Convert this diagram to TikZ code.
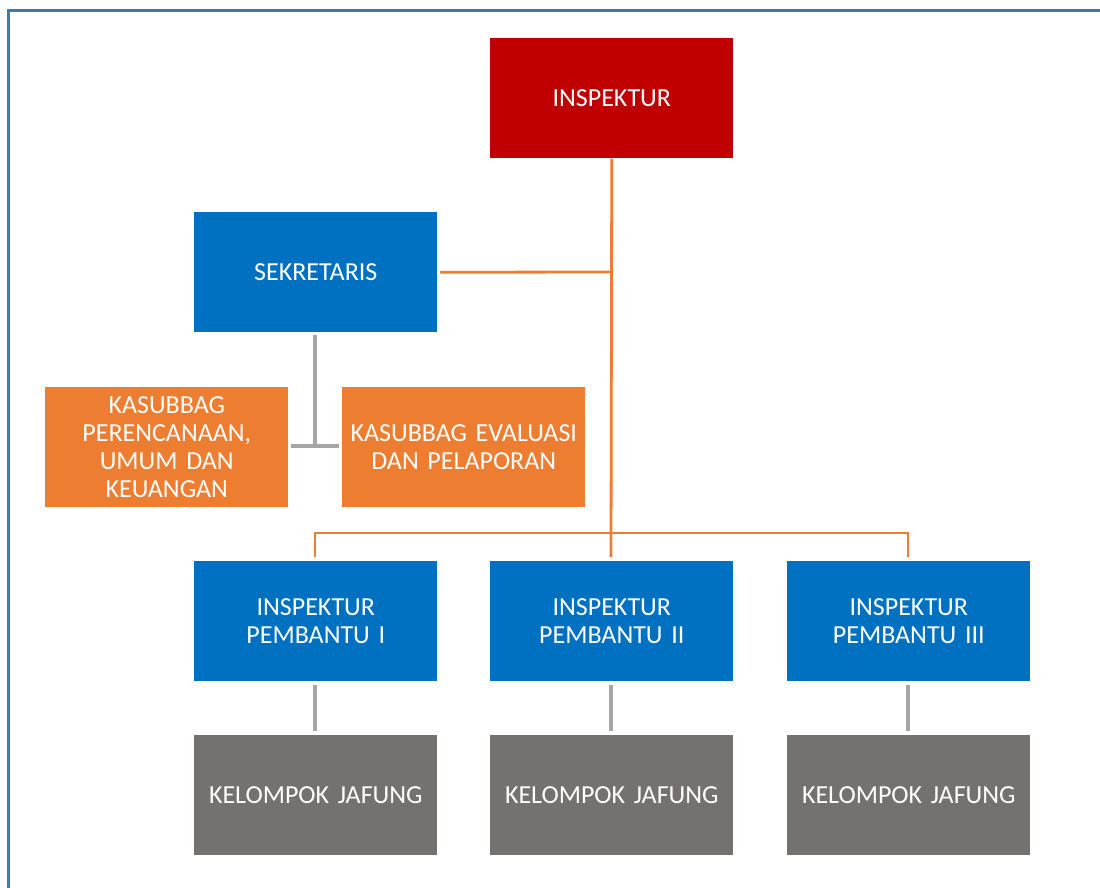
\documentclass[tikz,border=0pt]{standalone}
\usepackage{fontspec}
\setmainfont[WordSpace=0.75]{Carlito}
\definecolor{bordc}{HTML}{4676A8}
\definecolor{redc}{HTML}{C00000}
\definecolor{bluec}{HTML}{0070C0}
\definecolor{orangec}{HTML}{ED7D31}
\definecolor{grayc}{HTML}{767171}
\definecolor{linegray}{HTML}{A6A6A6}
\begin{document}
\begin{tikzpicture}[x=0.75pt,y=-0.75pt,
  box/.style={draw=none,minimum width=182.25pt,minimum height=90pt,inner sep=0pt,text width=180pt,align=center,text=white,font=\fontsize{19.5}{21}\selectfont,anchor=north west},
  redbox/.style={box,fill=redc},
  bluebox/.style={box,fill=bluec},
  orbox/.style={box,fill=orangec},
  graybox/.style={box,fill=grayc},
  oline/.style={draw=orangec,line width=2.1pt},
  gline/.style={draw=linegray,line width=2.3pt}]
\useasboundingbox (0,0) rectangle (1100,888);
\fill[white] (0,0) rectangle (1100,888);
\draw[draw=bordc,line width=2.4pt] (8.5,888) -- (8.5,10.5) -- (1100,10.5);

\node[redbox] (insp) at (490,38) {INSPEKTUR};
\node[bluebox] (sek) at (194,212) {SEKRETARIS};
\node[orbox] (k1) at (45,387) {KASUBBAG\\PERENCANAAN,\\UMUM DAN\\KEUANGAN};
\node[orbox] (k2) at (342,387) {KASUBBAG EVALUASI\\DAN PELAPORAN};
\node[bluebox] (ip1) at (194,561) {INSPEKTUR\\PEMBANTU I};
\node[bluebox] (ip2) at (490,561) {INSPEKTUR\\PEMBANTU II};
\node[bluebox] (ip3) at (787,561) {INSPEKTUR\\PEMBANTU III};
\node[graybox] (j1) at (194,735) {KELOMPOK JAFUNG};
\node[graybox] (j2) at (490,735) {KELOMPOK JAFUNG};
\node[graybox] (j3) at (787,735) {KELOMPOK JAFUNG};

\coordinate (sj) at (611,272);
\coordinate (kj) at (315,446);

% orange connectors
\draw[oline] (insp.south) -- (611,557);
\draw[oline] ([xshift=2pt]sek.east) -- (sj);
\draw[oline] (315,557) -- (315,533) -- (908,533) -- (908,557);

% gray connectors
\draw[gline] (315,335) -- (kj);
\draw[gline] (291,446) -- (339,446);
\draw[gline] (315,685) -- (315,731);
\draw[gline] (611,685) -- (611,731);
\draw[gline] (908,685) -- (908,731);
\end{tikzpicture}
\end{document}
